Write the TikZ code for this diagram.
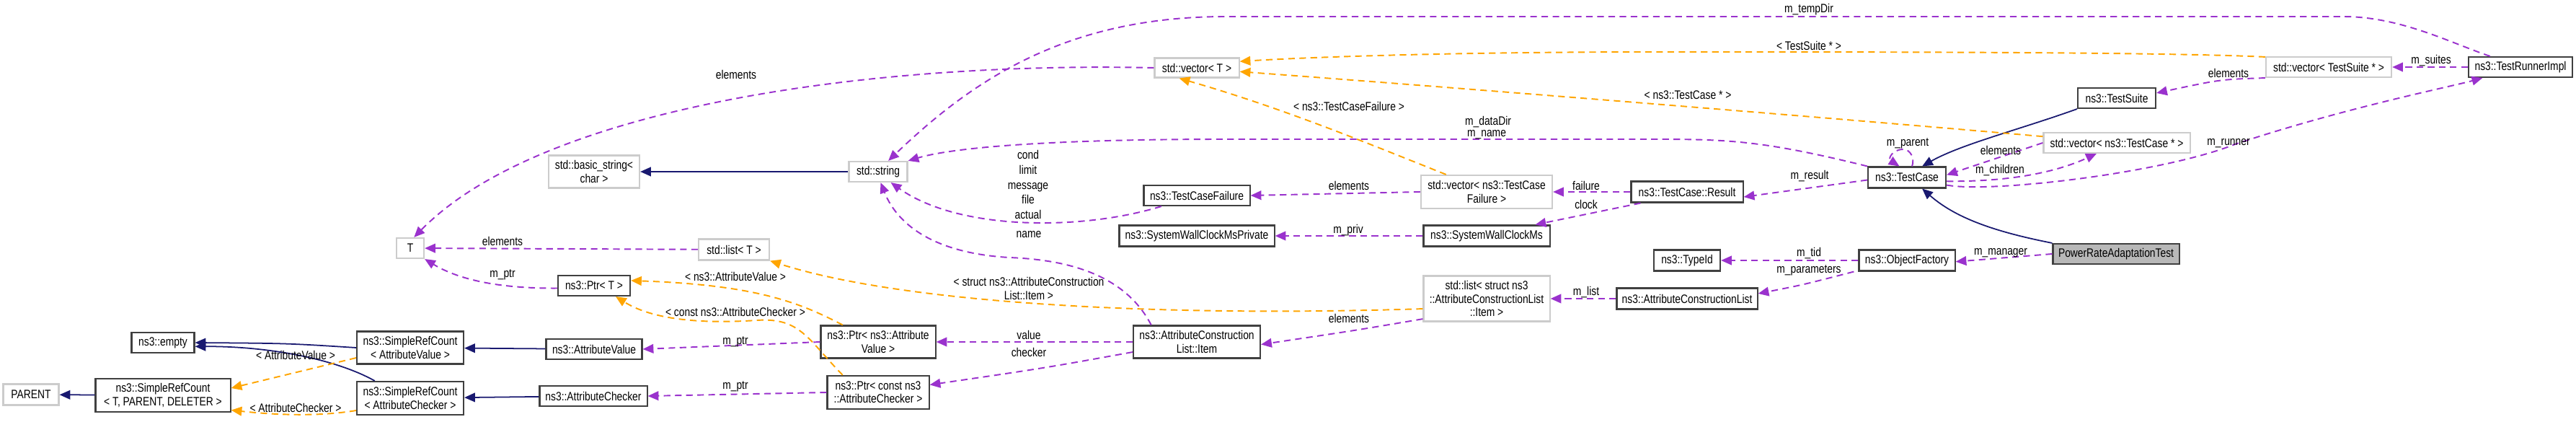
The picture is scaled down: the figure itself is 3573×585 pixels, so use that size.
\documentclass[tikz,border=0pt]{standalone}
\usepackage{fontspec}
\setmainfont{Liberation Sans}[FakeStretch=0.82]
\usetikzlibrary{arrows.meta}
\def\pxu{0.28453pt}
\definecolor{inh}{HTML}{191970}
\definecolor{use}{HTML}{9A32CD}
\definecolor{tpl}{HTML}{FFA500}
\begin{document}
\begin{tikzpicture}[x=0.01cm,y=-0.01cm,
  every node/.style={font=\fontsize{4.8pt}{5.2pt}\selectfont, inner sep=0pt, align=center},
  box/.style 2 args={draw=black!75, line width=0.6pt, fill=white, minimum width=#1*\pxu, minimum height=#2*\pxu},
  gbox/.style 2 args={draw=black!20, line width=0.6pt, fill=white, minimum width=#1*\pxu, minimum height=#2*\pxu},
  inhe/.style={draw=inh, line width=0.5pt, -{Triangle[length=4.2pt,width=3.6pt]}},
  usee/.style={draw=use, line width=0.55pt, dash pattern=on 2.6pt off 1.8pt, -{Triangle[length=4.2pt,width=3.6pt]}},
  tple/.style={draw=tpl, line width=0.55pt, dash pattern=on 2.6pt off 1.8pt, -{Triangle[length=4.2pt,width=3.6pt]}},
  lbl/.style={fill=none}]
\useasboundingbox (0,0) rectangle (3573,585);
% nodes
\node[gbox={77}{29}] (parent) at (43,547) {PARENT};
\node[box={187}{46}] (srcT) at (226,548) {ns3::SimpleRefCount\\< T, PARENT, DELETER >};
\node[box={87}{28}] (empty) at (226,475) {ns3::empty};
\node[box={148}{45}] (srcAV) at (569,482) {ns3::SimpleRefCount\\< AttributeValue >};
\node[box={148}{46}] (srcAC) at (569,552) {ns3::SimpleRefCount\\< AttributeChecker >};
\node[box={133}{28}] (attrV) at (824,484) {ns3::AttributeValue};
\node[box={149}{28}] (attrC) at (823,549) {ns3::AttributeChecker};
\node[gbox={38}{28}] (T) at (569,344) {T};
\node[box={100}{28}] (ptrT) at (824,396) {ns3::Ptr< T >};
\node[gbox={98}{29}] (listT) at (1018,346) {std::list< T >};
\node[gbox={126}{45}] (basicstr) at (824,238) {std::basic\_string<\\char >};
\node[gbox={81}{28}] (stdstr) at (1218,238) {std::string};
\node[gbox={117}{27}] (vecT) at (1660,94) {std::vector< T >};
\node[box={147}{28}] (tcf) at (1660,271) {ns3::TestCaseFailure};
\node[gbox={182}{46}] (vecTCF) at (2062,266) {std::vector< ns3::TestCase\\Failure >};
\node[box={155}{29}] (result) at (2340,266) {ns3::TestCase::Result};
\node[box={108}{29}] (testcase) at (2645,246) {ns3::TestCase};
\node[gbox={203}{28}] (vecTC) at (2936,198) {std::vector< ns3::TestCase * >};
\node[box={108}{28}] (suite) at (2936,136) {ns3::TestSuite};
\node[gbox={174}{28}] (vecTS) at (3230,93) {std::vector< TestSuite * >};
\node[box={144}{28}] (runner) at (3496,93) {ns3::TestRunnerImpl};
\node[box={215}{29}] (swcmP) at (1660,327) {ns3::SystemWallClockMsPrivate};
\node[box={175}{29}] (swcm) at (2062,327) {ns3::SystemWallClockMs};
\node[box={92}{29}] (typeid) at (2340,361) {ns3::TypeId};
\node[box={133}{29}] (objf) at (2645,361) {ns3::ObjectFactory};
\node[box={175}{28}, fill=black!28] (prat) at (2935,352) {PowerRateAdaptationTest};
\node[box={195}{29}] (acl) at (2340,414) {ns3::AttributeConstructionList};
\node[gbox={175}{63}] (listItem) at (2062,414) {std::list< struct ns3\\::AttributeConstructionList\\::Item >};
\node[box={176}{45}] (item) at (1660,474) {ns3::AttributeConstruction\\List::Item};
\node[box={159}{45}] (ptrAV) at (1218,474) {ns3::Ptr< ns3::Attribute\\Value >};
\node[box={141}{46}] (ptrAC) at (1218,544) {ns3::Ptr< const ns3\\::AttributeChecker >};
% inheritance
\draw[inhe] (srcT) -- (parent);
\draw[inhe] (srcAV.west) .. controls (400,476) .. (empty.east);
\draw[inhe] ([xshift=-14pt]srcAC.north) .. controls (470,500) and (380,480) .. ([yshift=-1.5pt]empty.east);
\draw[inhe] (attrV) -- (srcAV);
\draw[inhe] (attrC) -- (srcAC);
\draw[inhe] (stdstr) -- (basicstr);
\draw[inhe] (suite.south west) .. controls (2800,180) and (2720,200) .. ([xshift=6pt]testcase.north);
\draw[inhe] (prat.north west) .. controls (2760,320) and (2710,300) .. ([xshift=6pt]testcase.south);
% template instances
\draw[tple] ([yshift=-4pt]srcAV.west) -- ([yshift=-4pt]srcT.north east);
\draw[tple] ([yshift=2pt]srcAC.south west) .. controls (440,578) and (380,575) .. ([yshift=1pt]srcT.south east);
\draw[tple] ([xshift=-14pt]ptrAV.north) .. controls (1110,420) and (1050,395) .. ([yshift=2pt]ptrT.east);
\draw[tple] ([xshift=-14pt]ptrAC.north) .. controls (1120,470) and (1110,440) .. (1050,444) .. controls (960,450) and (900,440) .. ([xshift=-6pt]ptrT.south east);
\draw[tple] ([yshift=-4pt]listItem.west) .. controls (1600,440) and (1250,420) .. (listT.south east);
\draw[tple] ([xshift=-16pt]vecTCF.north) .. controls (1900,200) and (1780,150) .. ([xshift=10pt]vecT.south west);
\draw[tple] ([yshift=4pt]vecTS.west) .. controls (3000,72) and (2600,72) .. (2300,72) .. controls (2000,72) and (1800,80) .. ([yshift=2.5pt]vecT.east);
\draw[tple] ([yshift=2.5pt]vecTC.west) .. controls (2500,160) and (2000,120) .. ([yshift=-1.5pt]vecT.east);
% usage
\draw[usee] (listT) -- (T);
\draw[usee] ([yshift=-1pt]ptrT.west) .. controls (700,400) and (640,390) .. (T.south east);
\draw[usee] (vecT.west) .. controls (1200,85) and (750,150) .. ([xshift=1.5pt]T.north);
\draw[usee] (ptrAV.west) -- (attrV.east);
\draw[usee] (ptrAC.west) -- (attrC.east);
\draw[usee] (item.west) -- (ptrAV.east);
\draw[usee] ([yshift=-4pt]item.west) .. controls (1450,510) .. ([yshift=3pt]ptrAC.east);
\draw[usee] ([xshift=-18pt]item.north) .. controls (1560,380) and (1480,360) .. (1400,357) .. controls (1280,350) and (1240,300) .. ([xshift=1pt]stdstr.south);
\draw[usee] ([yshift=-8pt]listItem.west) .. controls (1880,458) .. ([yshift=-1pt]item.east);
\draw[usee] (acl) -- (listItem);
\draw[usee] ([xshift=-16pt]objf.south east |- objf.south) ++(-85,0) .. controls (2500,395) .. ([yshift=2pt]acl.east);
\draw[usee] (objf) -- (typeid);
\draw[usee] (prat.west) -- ([yshift=-0.5pt]objf.east);
\draw[usee] ([xshift=-14pt]tcf.south) .. controls (1500,320) and (1330,320) .. ([xshift=5pt]stdstr.south);
\draw[usee] (vecTCF.west) -- (tcf.east);
\draw[usee] (result.west) -- (vecTCF.east);
\draw[usee] ([xshift=4pt]result.south west) -- ([xshift=-6pt]swcm.north east);
\draw[usee] (swcm) -- (swcmP);
\draw[usee] ([yshift=-1pt]testcase.west) -- ([yshift=-2pt]result.east);
\draw[usee] (testcase.north west) .. controls (2450,196) and (2400,193) .. (2300,193) -- (1700,193) .. controls (1450,193) and (1320,205) .. (stdstr.north east);
\draw[usee] ([xshift=2pt]testcase.north) .. controls (2656,220) and (2650,207) .. (2640,207) .. controls (2625,207) and (2618,220) .. ([xshift=-3pt]testcase.north);
\draw[usee] (vecTC.west) -- ([yshift=1pt]testcase.east);
\draw[usee] ([yshift=-1.5pt]testcase.east) .. controls (2800,252) and (2860,235) .. ([xshift=-8pt]vecTC.south);
\draw[usee] ([yshift=-3pt]testcase.east) .. controls (2760,268) and (3000,240) .. (3100,200) .. controls (3250,150) and (3400,120) .. ([xshift=-15pt]runner.south);
\draw[usee] (runner) -- (vecTS);
\draw[usee] (vecTS.south west) .. controls (3080,110) .. ([yshift=2pt]suite.east);
\draw[usee] ([xshift=-12pt]runner.north) .. controls (3400,60) and (3330,23) .. (3250,23) -- (1700,23) .. controls (1480,23) and (1350,110) .. ([xshift=4pt]stdstr.north);
% labels
\node[lbl] at (697,334) {elements};
\node[lbl] at (697,381) {m\_ptr};
\node[lbl] at (410,492) {< AttributeValue >};
\node[lbl] at (410,565) {< AttributeChecker >};
\node[lbl] at (1020,383) {< ns3::AttributeValue >};
\node[lbl] at (1020,432) {< const ns3::AttributeChecker >};
\node[lbl] at (1020,474) {m\_ptr};
\node[lbl] at (1020,536) {m\_ptr};
\node[lbl] at (1427,400) {< struct ns3::AttributeConstruction\\List::Item >};
\node[lbl] at (1427,325) {name};
\node[lbl] at (1427,464) {value};
\node[lbl] at (1427,488) {checker};
\node[lbl] at (1021,103) {elements};
\node[lbl, align=center] at (1426,256) {cond\\[0.7pt]limit\\[0.7pt]message\\[0.7pt]file\\[0.7pt]actual};
\node[lbl] at (2509,13) {m\_tempDir};
\node[lbl] at (2509,63) {< TestSuite * >};
\node[lbl] at (2341,132) {< ns3::TestCase * >};
\node[lbl] at (1871,147) {< ns3::TestCaseFailure >};
\node[lbl] at (2064,169) {m\_dataDir};
\node[lbl] at (2062,187) {m\_name};
\node[lbl] at (2646,199) {m\_parent};
\node[lbl] at (2510,244) {m\_result};
\node[lbl] at (1871,257) {elements};
\node[lbl] at (2200,257) {failure};
\node[lbl] at (2200,283) {clock};
\node[lbl] at (1870,319) {m\_priv};
\node[lbl] at (2509,351) {m\_tid};
\node[lbl] at (2509,375) {m\_parameters};
\node[lbl] at (2200,405) {m\_list};
\node[lbl] at (1871,441) {elements};
\node[lbl] at (3372,84) {m\_suites};
\node[lbl] at (3091,101) {elements};
\node[lbl] at (2775,208) {elements};
\node[lbl] at (2774,236) {m\_children};
\node[lbl] at (3091,199) {m\_runner};
\node[lbl] at (2775,351) {m\_manager};
\end{tikzpicture}
\end{document}
